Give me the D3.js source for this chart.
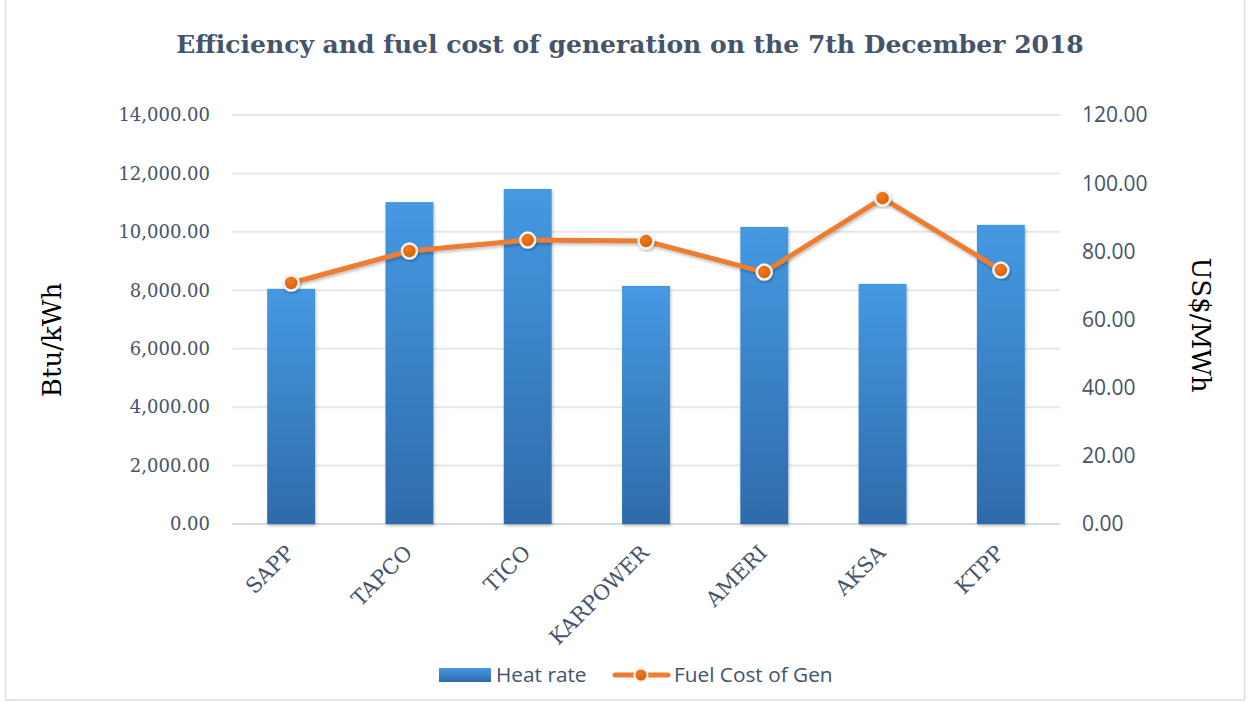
<!DOCTYPE html>
<html>
<head>
<meta charset="utf-8">
<script src="https://cdn.jsdelivr.net/npm/d3@7"></script>
<style>
  body { margin: 0; background: #fff; }
</style>
</head>
<body>
<div id="chart"></div>
<script>
(function() {
    'use strict';

    // data
    var plants = ["SAPP", "TAPCO", "TICO", "KARPOWER", "AMERI", "AKSA", "KTPP"];
    var heatRate = [8050, 11020, 11470, 8150, 10170, 8220, 10240];
    var fuelCost = [70.7, 80.1, 83.3, 83.0, 73.9, 95.6, 74.5];
    var leftTicks = [0, 2000, 4000, 6000, 8000, 10000, 12000, 14000];
    var rightTicks = [0, 20, 40, 60, 80, 100, 120];

    var width = 1251, height = 702;
    var left = 232, right = 1060, top = 115, bottom = 524;
    var textColor = "#44546A";
    var serif = "'DejaVu Serif', serif";
    var sans = "'Open Sans', sans-serif";

    var svg = d3.select("#chart").append("svg")
        .attr("width", width)
        .attr("height", height);

    var defs = svg.append("defs");
    var grad = defs.append("linearGradient")
        .attr("id", "barGrad").attr("x1", 0).attr("y1", 0).attr("x2", 0).attr("y2", 1);
    grad.append("stop").attr("offset", "0%").attr("stop-color", "#4599E2");
    grad.append("stop").attr("offset", "100%").attr("stop-color", "#2E6BAB");

    var dotGrad = defs.append("radialGradient")
        .attr("id", "dotGrad").attr("cx", "40%").attr("cy", "35%").attr("r", "70%");
    dotGrad.append("stop").attr("offset", "0%").attr("stop-color", "#F47A1C");
    dotGrad.append("stop").attr("offset", "100%").attr("stop-color", "#D45E08");

    var shadow = defs.append("filter").attr("id", "shadow")
        .attr("x", "-20%").attr("y", "-20%").attr("width", "140%").attr("height", "140%");
    shadow.append("feDropShadow").attr("dx", 1).attr("dy", 2).attr("stdDeviation", 1.5)
        .attr("flood-color", "#000").attr("flood-opacity", 0.25);

    // outer border
    svg.append("rect")
        .attr("x", 5.5).attr("y", -2).attr("width", 1239).attr("height", 702)
        .attr("fill", "none").attr("stroke", "#D9DDE3").attr("stroke-width", 1.5);

    var x = d3.scaleBand().domain(plants).range([left, right]).paddingInner(0.595).paddingOuter(0.2975);
    var yL = d3.scaleLinear().domain([0, 14000]).range([bottom, top]);
    var yR = d3.scaleLinear().domain([0, 120]).range([bottom, top]);

    // gridlines
    svg.append("g").selectAll("line").data(leftTicks).enter().append("line")
        .attr("x1", left).attr("x2", right)
        .attr("y1", function(d) { return yL(d); })
        .attr("y2", function(d) { return yL(d); })
        .attr("stroke", function(d) { return d === 0 ? "#D6DBE2" : "#E3E6EA"; })
        .attr("stroke-width", 2);

    // left axis labels
    var fmt = d3.format(",.2f");
    svg.append("g").selectAll("text").data(leftTicks).enter().append("text")
        .attr("x", 210)
        .attr("y", function(d) { return yL(d); })
        .attr("dy", "0.35em")
        .attr("text-anchor", "end")
        .attr("font-family", serif)
        .attr("font-size", 18)
        .attr("fill", textColor)
        .text(function(d) { return fmt(d); });

    // right axis labels
    svg.append("g").selectAll("text").data(rightTicks).enter().append("text")
        .attr("x", 1082)
        .attr("y", function(d) { return yR(d); })
        .attr("dy", "0.35em")
        .attr("text-anchor", "start")
        .attr("font-family", sans)
        .attr("font-size", 21)
        .attr("fill", textColor)
        .text(function(d) { return fmt(d); });

    // bars
    svg.append("g").selectAll("rect").data(heatRate).enter().append("rect")
        .attr("x", function(d, i) { return x(plants[i]); })
        .attr("y", function(d) { return yL(d); })
        .attr("width", x.bandwidth())
        .attr("height", function(d) { return bottom - yL(d); })
        .attr("fill", "url(#barGrad)")
        .attr("filter", "url(#shadow)");

    // line
    var line = d3.line()
        .x(function(d, i) { return x(plants[i]) + x.bandwidth() / 2; })
        .y(function(d) { return yR(d); });

    svg.append("path")
        .datum(fuelCost)
        .attr("d", line)
        .attr("fill", "none")
        .attr("stroke", "#ED7D31")
        .attr("stroke-width", 5)
        .attr("stroke-linejoin", "round")
        .attr("filter", "url(#shadow)");

    svg.append("g").selectAll("circle").data(fuelCost).enter().append("circle")
        .attr("cx", function(d, i) { return x(plants[i]) + x.bandwidth() / 2; })
        .attr("cy", function(d) { return yR(d); })
        .attr("r", 7.5)
        .attr("fill", "url(#dotGrad)")
        .attr("stroke", "#F2F2F2")
        .attr("stroke-width", 2.5)
        .attr("filter", "url(#shadow)");

    // x labels
    svg.append("g").selectAll("text").data(plants).enter().append("text")
        .attr("transform", function(d) {
            var cx = x(d) + x.bandwidth() / 2;
            return "translate(" + (cx - 7) + ",543) rotate(-45)";
        })
        .attr("text-anchor", "end")
        .attr("dy", "0.75em")
        .attr("font-family", serif)
        .attr("font-size", 21)
        .attr("fill", textColor)
        .text(function(d) { return d; });

    // axis titles
    svg.append("text")
        .attr("transform", "translate(61,340) rotate(-90)")
        .attr("text-anchor", "middle")
        .attr("font-family", serif)
        .attr("font-size", 26)
        .attr("fill", "#000")
        .text("Btu/kWh");

    svg.append("text")
        .attr("transform", "translate(1192,325) rotate(90)")
        .attr("text-anchor", "middle")
        .attr("font-family", serif)
        .attr("font-size", 26)
        .attr("fill", "#000")
        .text("US$/MWh");

    // title
    svg.append("text")
        .attr("x", 630).attr("y", 53)
        .attr("text-anchor", "middle")
        .attr("font-family", serif)
        .attr("font-weight", "bold")
        .attr("font-size", 25)
        .attr("fill", textColor)
        .text("Efficiency and fuel cost of  generation on the 7th December 2018");

    // legend
    var lg = svg.append("g");
    lg.append("rect")
        .attr("x", 439).attr("y", 668).attr("width", 52).attr("height", 14)
        .attr("fill", "url(#barGrad)");
    lg.append("text")
        .attr("x", 496).attr("y", 675).attr("dy", "0.35em")
        .attr("font-family", sans)
        .attr("font-size", 20.8)
        .attr("fill", textColor)
        .text("Heat rate");
    lg.append("line")
        .attr("x1", 615).attr("x2", 668).attr("y1", 675).attr("y2", 675)
        .attr("stroke", "#ED7D31").attr("stroke-width", 5).attr("stroke-linecap", "round");
    lg.append("circle")
        .attr("cx", 641).attr("cy", 675).attr("r", 6.5)
        .attr("fill", "url(#dotGrad)").attr("stroke", "#F2F2F2").attr("stroke-width", 2);
    lg.append("text")
        .attr("x", 674).attr("y", 675).attr("dy", "0.35em")
        .attr("font-family", sans)
        .attr("font-size", 20.8)
        .attr("fill", textColor)
        .text("Fuel Cost of Gen");
})();
</script>
</body>
</html>
